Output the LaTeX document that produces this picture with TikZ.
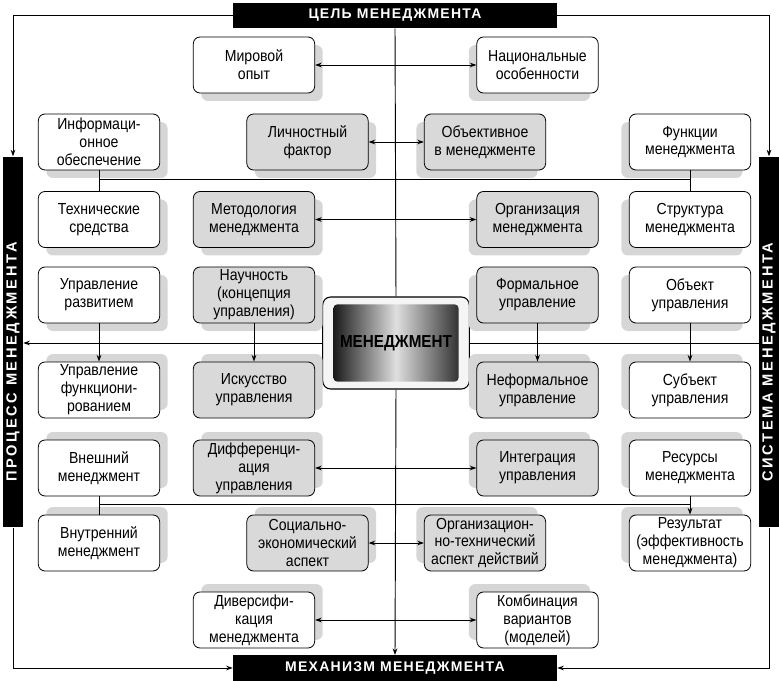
\documentclass[tikz,border=0pt]{standalone}
\usepackage{fontspec}
\setmainfont{Liberation Sans}
\newfontfamily\boxfont{Liberation Sans}[FakeStretch=0.88]
\usetikzlibrary{arrows.meta,shadows}

\tikzset{
  box/.style={draw, line width=0.6pt, rounded corners=5pt, fill=white, minimum width=91pt, minimum height=42pt, align=center, inner sep=1pt, font=\boxfont\fontsize{12}{13.4}\selectfont},
  gbox/.style={box, fill=gray!30},
  tl/.style={drop shadow={shadow xshift=6pt, shadow yshift=-6pt, fill=gray!32, opacity=1}},
  tr/.style={drop shadow={shadow xshift=-6pt, shadow yshift=-6pt, fill=gray!32, opacity=1}},
  bl/.style={drop shadow={shadow xshift=6pt, shadow yshift=6pt, fill=gray!32, opacity=1}},
  br/.style={drop shadow={shadow xshift=-6pt, shadow yshift=6pt, fill=gray!32, opacity=1}},
  hbar/.style={fill=black, text=white, inner sep=0pt, minimum width=243pt, minimum height=19pt, font=\fontsize{10.5}{12}\selectfont\bfseries\addfontfeatures{LetterSpace=9}},
  vbar/.style={fill=black, text=white, inner sep=0pt, rotate=90, minimum width=278pt, minimum height=15pt, font=\fontsize{11}{12}\selectfont\bfseries\addfontfeatures{LetterSpace=18}},
  link/.style={line width=0.7pt},
  arr/.style={link, -{Stealth[length=5pt,width=3.5pt]}},
  darr/.style={link, {Stealth[length=5pt,width=3.5pt]}-{Stealth[length=5pt,width=3.5pt]}}
}

\begin{document}
\begin{tikzpicture}[x=0.75pt, y=-0.75pt]

        \useasboundingbox (0,0) rectangle (779,681);

        \node[hbar] (goal) at (395,15.5) {ЦЕЛЬ МЕНЕДЖМЕНТА};
        \node[hbar] (mech) at (395,668) {МЕХАНИЗМ МЕНЕДЖМЕНТА};
        \node[vbar] (proc) at (13,342) {ПРОЦЕСС МЕНЕДЖМЕНТА\hspace*{30pt}};
        \node[vbar] (sys) at (769,342) {СИСТЕМА МЕНЕДЖМЕНТА\hspace*{30pt}};

        \node[draw, line width=0.8pt, rounded corners=6pt, fill=gray!8, minimum width=110pt, minimum height=69pt] (core) at (396,343) {};
        \node[rounded corners=3pt, minimum width=94pt, minimum height=58pt, left color=black!90, right color=black!80, middle color=gray!25, font=\boxfont\fontsize{13}{14}\selectfont\bfseries] (corein) at (core.center) {МЕНЕДЖМЕНТ};

        \node[box,tl] (mir) at (254,65) {Мировой\\опыт};
        \node[box,tr] (nat) at (537.5,65) {Национальные\\особенности};

        \node[box,tl] (info) at (99,142) {Информаци-\\онное\\обеспечение};
        \node[gbox,tl] (lich) at (307.5,142) {Личностный\\фактор};
        \node[gbox,tr] (obj) at (485,142) {Объективное\\в менеджменте};
        \node[box,tr] (funk) at (690,142) {Функции\\менеджмента};

        \node[box,tl] (tech) at (99,219.5) {Технические\\средства};
        \node[gbox,tl] (metod) at (254,219.5) {Методология\\менеджмента};
        \node[gbox,tr] (orgm) at (537.5,219.5) {Организация\\менеджмента};
        \node[box,tr] (struct) at (690,219.5) {Структура\\менеджмента};

        \node[box,tl] (razv) at (99,295) {Управление\\развитием};
        \node[gbox,tl] (nauch) at (254,295) {Научность\\(концепция\\управления)};
        \node[gbox,tr] (formal) at (537.5,295) {Формальное\\управление};
        \node[box,tr] (obekt) at (690,295) {Объект\\управления};

        \node[box,bl] (funkc) at (99,390) {Управление\\функциони-\\рованием};
        \node[gbox,bl] (isk) at (254,390) {Искусство\\управления};
        \node[gbox,br] (neform) at (537.5,390) {Неформальное\\управление};
        \node[box,br] (subj) at (690,390) {Субъект\\управления};

        \node[box,bl] (vnesh) at (99,468) {Внешний\\менеджмент};
        \node[gbox,bl] (diff) at (254,468) {Дифференци-\\ация\\управления};
        \node[gbox,br] (integ) at (537.5,468) {Интеграция\\управления};
        \node[box,br] (res) at (690,468) {Ресурсы\\менеджмента};

        \node[box,bl] (vnutr) at (99,543) {Внутренний\\менеджмент};
        \node[gbox,bl] (soc) at (307.5,543) {Социально-\\экономический\\аспект};
        \node[gbox,br] (orgtech) at (485,543) {Организацион-\\но-технический\\аспект действий};
        \node[box,br] (result) at (690,543) {Результат\\(эффективность\\менеджмента)};

        \node[box,bl] (divers) at (254,620) {Диверсифи-\\кация\\менеджмента};
        \node[box,br] (komb) at (537.5,620) {Комбинация\\вариантов\\(моделей)};

        \draw[arr] (goal.west) -| (proc.east);
        \draw[arr] (goal.east) -| (sys.east);
        \draw[arr] (proc.west) |- (mech.west);
        \draw[arr] (sys.west) |- (mech.east);

        \draw[link] (goal.south) -- (core.north);
        \draw[arr] (core.south) -- (mech.north);
        \draw[arr] (core.west) -- (core.west -| proc.south);
        \draw[link] (core.east) -- (core.east -| sys.north);

        \draw[darr] (mir.east) -- (nat.west);
        \draw[darr] (lich.east) -- (obj.west);
        \draw[darr] (metod.east) -- (orgm.west);
        \draw[darr] (diff.east) -- (integ.west);
        \draw[darr] (soc.east) -- (orgtech.west);
        \draw[darr] (divers.east) -- (komb.west);

        \draw[link] (info.south) -- (tech.north) coordinate[pos=0.45] (up);
        \draw[link] (funk.south) -- (struct.north);
        \draw[link] (up) -- (up -| funk.south);

        \draw[arr] (razv.south) -- (funkc.north);
        \draw[arr] (nauch.south) -- (isk.north);
        \draw[arr] (formal.south) -- (neform.north);
        \draw[arr] (obekt.south) -- (subj.north);

        \draw[link] (vnesh.south) -- (vnutr.north) coordinate[pos=0.45] (low);
        \draw[arr] (res.south) -- (result.north);
        \draw[link] (low) -- (low -| res.south);

\end{tikzpicture}
\end{document}
